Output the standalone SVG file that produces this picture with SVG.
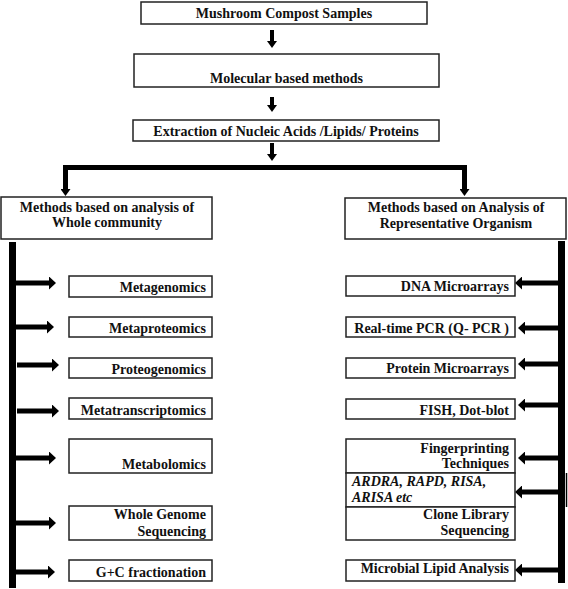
<svg xmlns="http://www.w3.org/2000/svg" width="568" height="589" viewBox="0 0 568 589">
<style>
.box{fill:#fff;stroke:#222;stroke-width:1.5}
.t{font-family:"Liberation Serif","Times New Roman",serif;font-weight:bold;font-size:14px;fill:#111}
.c{text-anchor:middle}
.r{text-anchor:end}
.i{font-style:italic}
.sh{stroke:#000;stroke-width:5;fill:none}
.vs{stroke:#000;stroke-width:4;fill:none}
.bar{fill:#000}
</style>
<defs>
<marker id="ah" viewBox="0 0 7 13" refX="2" refY="6.5" markerWidth="7" markerHeight="13" markerUnits="userSpaceOnUse" orient="auto">
<path d="M0,0 L7,6.5 L0,13 Z" fill="#000"/>
</marker>
<marker id="av" viewBox="0 0 7 10" refX="2" refY="5" markerWidth="7" markerHeight="10" markerUnits="userSpaceOnUse" orient="auto">
<path d="M0,0 L7,5 L0,10 Z" fill="#000"/>
</marker>
</defs>
<rect width="568" height="589" fill="#fff"/>

<g id="connectors">
<line class="vs" x1="272" y1="30" x2="272" y2="43" marker-end="url(#av)"/>
<line class="vs" x1="272" y1="97" x2="272" y2="107" marker-end="url(#av)"/>
<line class="vs" x1="272" y1="143" x2="272" y2="156" marker-end="url(#av)"/>
<rect class="bar" x="63" y="165" width="404" height="5"/>
<line class="sh" x1="65.5" y1="165" x2="65.5" y2="191" marker-end="url(#av)"/>
<line class="sh" x1="464.5" y1="165" x2="464.5" y2="191" marker-end="url(#av)"/>
<rect class="bar" x="9" y="242" width="7" height="346"/>
<rect class="bar" x="558" y="241" width="7" height="342"/>
<line x1="566.5" y1="473" x2="566.5" y2="507" stroke="#000" stroke-width="1.5"/>
<line class="sh" x1="16" y1="283" x2="51" y2="283" marker-end="url(#ah)"/>
<line class="sh" x1="14" y1="327" x2="49" y2="327" marker-end="url(#ah)"/>
<line class="sh" x1="17" y1="365" x2="54" y2="365" marker-end="url(#ah)"/>
<line class="sh" x1="17" y1="411" x2="54" y2="411" marker-end="url(#ah)"/>
<line class="sh" x1="14" y1="458" x2="51" y2="458" marker-end="url(#ah)"/>
<line class="sh" x1="14" y1="523" x2="51" y2="523" marker-end="url(#ah)"/>
<line class="sh" x1="14" y1="572" x2="50" y2="572" marker-end="url(#ah)"/>
<line class="sh" x1="558" y1="283" x2="520" y2="283" marker-end="url(#ah)"/>
<line class="sh" x1="558" y1="328" x2="523" y2="328" marker-end="url(#ah)"/>
<line class="sh" x1="558" y1="364" x2="523" y2="364" marker-end="url(#ah)"/>
<line class="sh" x1="558" y1="405" x2="523" y2="405" marker-end="url(#ah)"/>
<line class="sh" x1="558" y1="458" x2="523" y2="458" marker-end="url(#ah)"/>
<line class="sh" x1="558" y1="492" x2="520" y2="492" marker-end="url(#ah)"/>
<line class="sh" x1="558" y1="570" x2="520" y2="570" marker-end="url(#ah)"/>
</g>

<g id="n-samples"><rect class="box" x="141" y="2" width="286" height="22"/><text class="t c" x="284" y="18">Mushroom Compost Samples</text></g>
<g id="n-molecular"><rect class="box" x="134" y="54" width="305" height="33"/><text class="t c" x="286.5" y="83">Molecular based methods</text></g>
<g id="n-extraction"><rect class="box" x="133" y="120" width="306" height="21"/><text class="t c" x="286" y="136">Extraction of Nucleic Acids /Lipids/ Proteins</text></g>
<g id="n-whole"><rect class="box" x="1" y="197" width="211" height="42"/><text class="t c" x="107" y="212">Methods based on analysis of</text><text class="t c" x="107" y="227">Whole community</text></g>
<g id="n-repr"><rect class="box" x="345" y="198" width="221" height="41"/><text class="t c" x="456" y="212">Methods based on Analysis of</text><text class="t c" x="456" y="228">Representative Organism</text></g>

<g id="n-metagenomics"><rect class="box" x="69" y="276" width="143" height="21"/><text class="t r" x="206" y="292">Metagenomics</text></g>
<g id="n-metaproteomics"><rect class="box" x="69" y="317" width="143" height="20"/><text class="t r" x="206" y="333">Metaproteomics</text></g>
<g id="n-proteogenomics"><rect class="box" x="69" y="358" width="143" height="20"/><text class="t r" x="206" y="374">Proteogenomics</text></g>
<g id="n-metatranscriptomics"><rect class="box" x="69" y="398" width="143" height="21"/><text class="t r" x="206" y="415">Metatranscriptomics</text></g>
<g id="n-metabolomics"><rect class="box" x="69" y="439" width="143" height="34"/><text class="t r" x="206" y="469">Metabolomics</text></g>
<g id="n-wgs"><rect class="box" x="69" y="506" width="143" height="34"/><text class="t r" x="206" y="519">Whole Genome</text><text class="t r" x="206" y="536">Sequencing</text></g>
<g id="n-gc"><rect class="box" x="69" y="560" width="143" height="21"/><text class="t r" x="206" y="577">G+C fractionation</text></g>

<g id="n-dna"><rect class="box" x="346" y="276" width="169" height="20"/><text class="t r" x="509" y="291">DNA Microarrays</text></g>
<g id="n-qpcr"><rect class="box" x="346" y="317" width="169" height="20"/><text class="t r" x="509" y="333">Real-time PCR (Q- PCR )</text></g>
<g id="n-protein"><rect class="box" x="346" y="358" width="169" height="20"/><text class="t r" x="509" y="373">Protein Microarrays</text></g>
<g id="n-fish"><rect class="box" x="346" y="399" width="169" height="20"/><text class="t r" x="509" y="415">FISH, Dot-blot</text></g>
<g id="n-fingerprinting"><rect class="box" x="346" y="439" width="169" height="34"/><text class="t r" x="509" y="453">Fingerprinting</text><text class="t r" x="509" y="468">Techniques</text></g>
<g id="n-ardra"><rect class="box" x="346" y="473" width="169" height="34"/><text class="t i" x="352" y="486">ARDRA, RAPD, RISA,</text><text class="t i" x="352" y="502">ARISA etc</text></g>
<g id="n-clone"><rect class="box" x="346" y="507" width="169" height="33"/><text class="t r" x="509" y="519">Clone Library</text><text class="t r" x="509" y="535">Sequencing</text></g>
<g id="n-lipid"><rect class="box" x="346" y="560" width="169" height="21"/><text class="t r" x="509" y="573">Microbial Lipid Analysis</text></g>
</svg>
